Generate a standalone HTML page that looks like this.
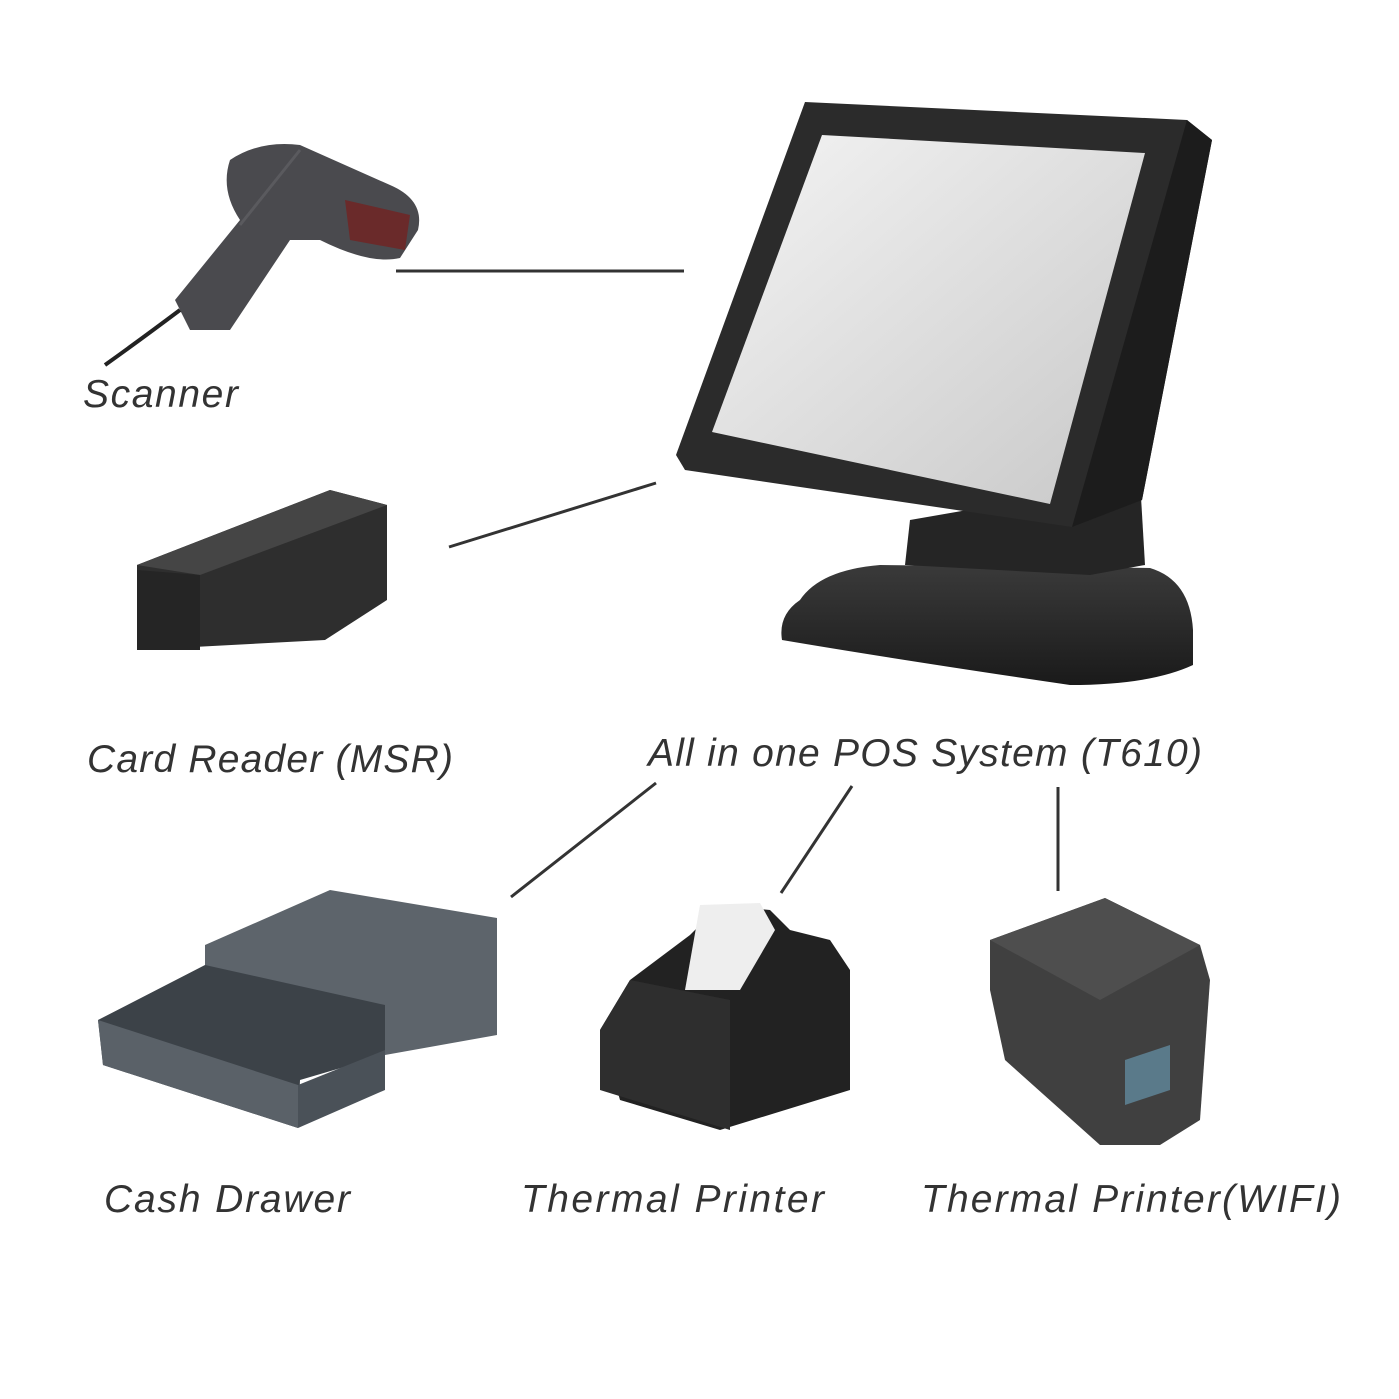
<!DOCTYPE html>
<html><head><meta charset="utf-8"><style>
html,body{margin:0;padding:0;background:#fff}
svg{display:block}
text{font-family:"Liberation Sans","DejaVu Sans",sans-serif;font-style:italic;font-size:39px;fill:#333}
</style></head><body>
<svg width="1399" height="1399" viewBox="0 0 1399 1399" xmlns="http://www.w3.org/2000/svg">
<defs>
<linearGradient id="scr" x1="0" y1="0" x2="1" y2="1"><stop offset="0" stop-color="#f4f4f4"/><stop offset="1" stop-color="#c8c8c8"/></linearGradient>
<linearGradient id="blk" x1="0" y1="0" x2="0" y2="1"><stop offset="0" stop-color="#3a3a3a"/><stop offset="1" stop-color="#1a1a1a"/></linearGradient>
</defs>
<path d="M800 600 Q820 570 880 565 L1150 568 Q1190 580 1193 630 L1193 665 Q1150 685 1070 685 Q900 660 782 640 Q778 615 800 600Z" fill="url(#blk)"/>
<path d="M910 520 L1140 480 L1145 565 L1090 575 L905 565Z" fill="#252525"/>
<path d="M805 102 L1187 120 L1212 140 L1142 500 L1072 527 L685 470 L676 455Z" fill="#2b2b2b"/>
<path d="M1187 120 L1212 140 L1142 500 L1072 527Z" fill="#1c1c1c"/>
<path d="M822 135 L1145 153 L1050 504 L712 432Z" fill="url(#scr)"/>
<path d="M230 160 Q260 140 300 145 L390 185 Q425 200 418 230 L400 258 Q370 265 320 240 L290 240 L230 330 L190 330 L175 300 L240 220 Q220 190 230 160Z" fill="#4a4a4e"/>
<path d="M345 200 L410 215 L405 250 L350 240Z" fill="#6a2a2a"/>
<path d="M240 225 L300 150" stroke="#5a5a5e" stroke-width="3" fill="none"/>
<path d="M180 310 Q140 340 105 365" stroke="#222" stroke-width="4" fill="none"/>
<path d="M137 565 L330 490 L387 505 L387 600 L325 640 L137 650Z" fill="#2e2e2e"/>
<path d="M137 565 L330 490 L387 505 L200 575Z" fill="#454545"/>
<path d="M137 570 L200 575 L200 650 L137 650Z" fill="#252525"/>
<path d="M205 945 L330 890 L497 918 L497 1035 L385 1055 L205 1000Z" fill="#5d646b"/>
<path d="M98 1020 L205 965 L385 1005 L385 1055 L300 1080 L298 1128 L103 1065Z" fill="#3c4248"/>
<path d="M98 1020 L298 1085 L298 1128 L103 1065Z" fill="#5a6168"/>
<path d="M298 1085 L385 1050 L385 1090 L298 1128Z" fill="#4a5158"/>
<path d="M690 935 L720 905 L770 910 L790 930 L830 940 L850 970 L850 1090 L720 1130 L620 1100 L600 1030 L630 980Z" fill="#222"/>
<path d="M700 905 L760 903 L775 930 L740 990 L685 990 Z" fill="#eee"/>
<path d="M630 980 L730 1000 L730 1130 L600 1090 L600 1030Z" fill="#2e2e2e"/>
<path d="M990 940 L1105 898 L1200 945 L1210 980 L1200 1120 L1160 1145 L1100 1145 L1005 1060 L990 990Z" fill="#404040"/>
<path d="M990 940 L1105 898 L1200 945 L1100 1000Z" fill="#4e4e4e"/>
<path d="M1125 1060 L1170 1045 L1170 1090 L1125 1105Z" fill="#5a7a8a"/>
<g stroke="#333" stroke-width="3">
<line x1="396" y1="271" x2="684" y2="271"/>
<line x1="449" y1="547" x2="656" y2="483"/>
<line x1="511" y1="897" x2="656" y2="783"/>
<line x1="781" y1="893" x2="852" y2="786"/>
<line x1="1058" y1="787" x2="1058" y2="891"/>
</g>
<text x="83" y="407" textLength="155">Scanner</text>
<text x="87" y="772" textLength="366">Card Reader (MSR)</text>
<text x="648" y="766" textLength="554">All in one POS System (T610)</text>
<text x="104" y="1212" textLength="246">Cash Drawer</text>
<text x="521" y="1212" textLength="303">Thermal Printer</text>
<text x="921" y="1212" textLength="420">Thermal Printer(WIFI)</text>
</svg>
</body></html>
